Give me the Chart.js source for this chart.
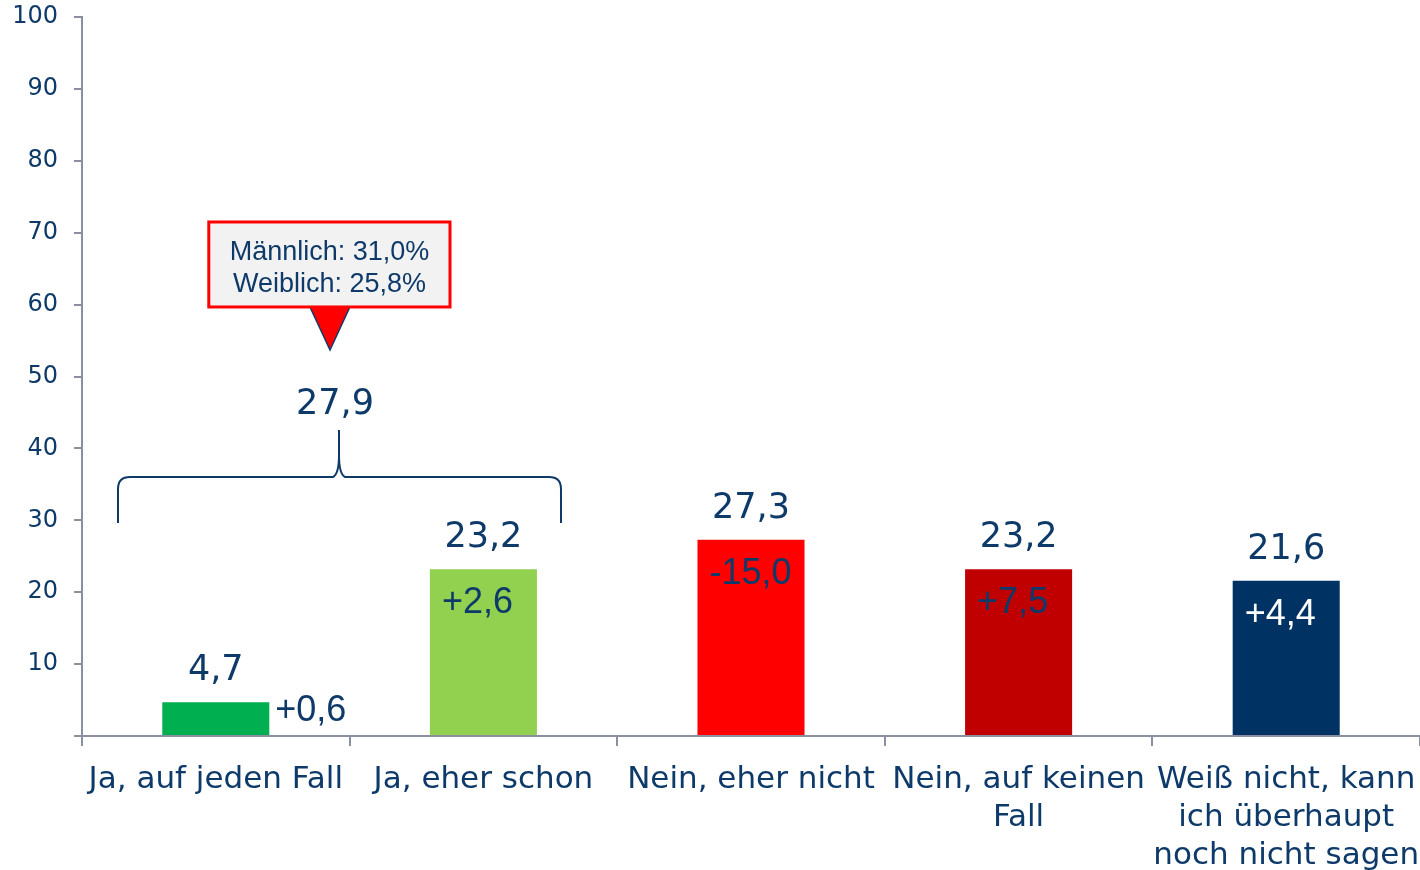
<!DOCTYPE html>
<html>
<head>
<meta charset="utf-8">
<script src="https://cdn.jsdelivr.net/npm/chart.js@4.4.0/dist/chart.umd.min.js"></script>
<style>
  html, body { margin: 0; padding: 0; background: #ffffff; }
  #wrap { width: 1420px; height: 870px; position: relative; }
</style>
</head>
<body>
<div id="wrap"><canvas id="c" width="1420" height="870"></canvas></div>
<script>
// ---- data ----
const categories = [
  ["Ja, auf jeden Fall"],
  ["Ja, eher schon"],
  ["Nein, eher nicht"],
  ["Nein, auf keinen", "Fall"],
  ["Weiß nicht, kann", "ich überhaupt", "noch nicht sagen"]
];
const values = [4.7, 23.2, 27.3, 23.2, 21.6];
const valueLabels = ["4,7", "23,2", "27,3", "23,2", "21,6"];
const changeLabels = ["+0,6", "+2,6", "-15,0", "+7,5", "+4,4"];
const groupTotalLabel = "27,9";
const calloutLines = ["Männlich: 31,0%", "Weiblich: 25,8%"];
const yTicks = [0, 10, 20, 30, 40, 50, 60, 70, 80, 90, 100];

// ---- styles ----
const NAVY = '#0E3A6A';
const AXIS = '#8B90A0';
const barColors = ['#00B050', '#92D050', '#FF0000', '#C00000', '#003363'];
const changeColors = [NAVY, NAVY, NAVY, NAVY, '#FFFFFF'];
const SANS = '"DejaVu Sans", Verdana, sans-serif';
const ARIAL = '"Liberation Sans", Arial, sans-serif';

const labelPlugin = {
  id: 'labels',
  afterDatasetsDraw(chart) {
    const ctx = chart.ctx;
    const meta = chart.getDatasetMeta(0);
    const xs = chart.scales.x, ys = chart.scales.y;
    ctx.save();
    meta.data.forEach((bar, i) => {
      ctx.font = '35px ' + SANS;
      ctx.fillStyle = NAVY;
      ctx.textAlign = 'center';
      ctx.textBaseline = 'middle';
      ctx.fillText(valueLabels[i], bar.x, bar.y - 31);

      ctx.font = '36px ' + ARIAL;
      ctx.fillStyle = changeColors[i];
      ctx.textAlign = 'left';
      const left = bar.x - bar.width / 2;
      if (i === 0) {
        ctx.fillText(changeLabels[i], left + bar.width + 6, bar.y + 9);
      } else {
        ctx.fillText(changeLabels[i], left + 12, bar.y + 34);
      }
    });

    // brace over first two categories
    const px = v => xs.getPixelForValue(v);
    const catW = px(1) - px(0);
    const X = f => px(0) + f * catW;
    const Y = v => ys.getPixelForValue(v);
    const xL = X(-0.3655), xPk = X(0.4604), xR = X(1.290);
    const yB = Y(29.62), yH = Y(36.02), yP = Y(42.56);
    const r = 12;
    ctx.strokeStyle = NAVY;
    ctx.lineWidth = 2;
    ctx.beginPath();
    ctx.moveTo(xL, yB);
    ctx.lineTo(xL, yH + r);
    ctx.quadraticCurveTo(xL, yH, xL + r, yH);
    ctx.lineTo(xPk - 6, yH);
    ctx.quadraticCurveTo(xPk, yH - 3, xPk, yH - 22);
    ctx.lineTo(xPk, yP);
    ctx.moveTo(xPk, yH - 22);
    ctx.quadraticCurveTo(xPk, yH - 3, xPk + 6, yH);
    ctx.lineTo(xR - r, yH);
    ctx.quadraticCurveTo(xR, yH, xR, yH + r);
    ctx.lineTo(xR, yB);
    ctx.stroke();

    ctx.font = '35px ' + SANS;
    ctx.fillStyle = NAVY;
    ctx.textAlign = 'center';
    ctx.textBaseline = 'middle';
    ctx.fillText(groupTotalLabel, X(0.4454), Y(46.05));

    // callout
    const bx1 = X(-0.0262), bx2 = X(0.8752), by1 = Y(71.49), by2 = Y(59.67);
    ctx.beginPath();
    ctx.moveTo(X(0.352), by2);
    ctx.lineTo(X(0.501), by2);
    ctx.lineTo(X(0.4268), Y(53.69));
    ctx.closePath();
    ctx.fillStyle = '#FF0000';
    ctx.fill();
    ctx.strokeStyle = NAVY;
    ctx.lineWidth = 1.5;
    ctx.stroke();

    ctx.fillStyle = '#F2F2F2';
    ctx.fillRect(bx1, by1, bx2 - bx1, by2 - by1);
    ctx.strokeStyle = '#FF0000';
    ctx.lineWidth = 3;
    ctx.strokeRect(bx1, by1, bx2 - bx1, by2 - by1);

    ctx.font = '27px ' + ARIAL;
    ctx.fillStyle = NAVY;
    ctx.textAlign = 'center';
    ctx.textBaseline = 'middle';
    const cx = X(0.4249);
    ctx.fillText(calloutLines[0], cx, Y(67.3));
    ctx.fillText(calloutLines[1], cx, Y(62.85));
    ctx.restore();
  }
};

new Chart(document.getElementById('c'), {
  type: 'bar',
  data: {
    labels: categories,
    datasets: [{
      data: values,
      backgroundColor: barColors,
      borderWidth: 0,
      barPercentage: 0.4,
      categoryPercentage: 1.0
    }]
  },
  options: {
    responsive: false,
    animation: false,
    events: [],
    layout: { padding: { top: 17, left: 0, right: 0, bottom: 0 } },
    plugins: { legend: { display: false }, tooltip: { enabled: false } },
    scales: {
      x: {
        offset: true,
        grid: { display: true, drawOnChartArea: false, drawTicks: true, tickLength: 10, color: AXIS, lineWidth: 2, offset: true },
        border: { display: true, color: AXIS, width: 2 },
        ticks: {
          color: NAVY,
          font: { family: SANS, size: 31, lineHeight: 1.23 },
          padding: 15,
          maxRotation: 0,
          minRotation: 0,
          autoSkip: false
        },
        afterFit(scale) { scale.height = 134; scale.paddingLeft = 0; scale.paddingRight = 0; }
      },
      y: {
        min: 0,
        max: 100,
        afterBuildTicks(scale) { scale.ticks = yTicks.map(v => ({ value: v })); },
        grid: { display: true, drawOnChartArea: false, drawTicks: true, tickLength: 8, color: AXIS, lineWidth: 2 },
        border: { display: true, color: AXIS, width: 2 },
        ticks: {
          color: NAVY,
          font: { family: SANS, size: 24 },
          padding: 16,
          callback: v => (v === 0 ? '' : String(v))
        },
        afterFit(scale) { scale.width = 82; scale.paddingTop = 0; scale.paddingBottom = 0; }
      }
    }
  },
  plugins: [labelPlugin]
});
</script>
</body>
</html>
